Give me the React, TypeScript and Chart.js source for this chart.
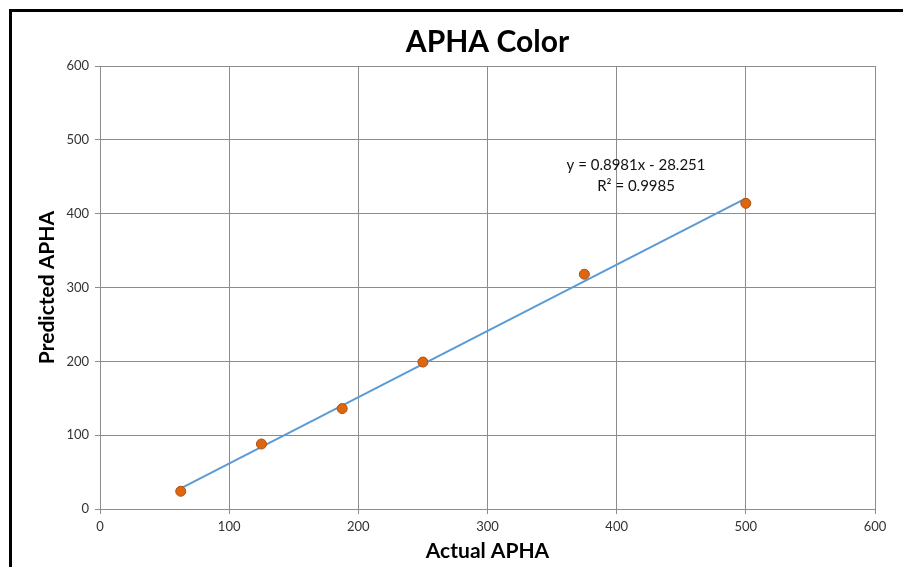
import React, { useEffect, useRef } from "react";
import { Chart, registerables } from "chart.js";

Chart.register(...registerables);

const actualApha = [62.5, 125, 187.5, 250, 375, 500];
const predictedApha = [24, 88, 136, 199, 318, 414];
const trendSlope = 0.8981;
const trendIntercept = -28.251;
const trendRange = [62.5, 500];
const equationLines = ["y = 0.8981x - 28.251", "R² = 0.9985"];
const chartTitle = "APHA Color";
const xTitle = "Actual APHA";
const yTitle = "Predicted APHA";

const FONT = "Lato, 'Open Sans', sans-serif";

const equationPlugin = {
  id: "equationLabel",
  afterDatasetsDraw(chart: any) {
    const { ctx, scales } = chart;
    const x = scales.x.getPixelForValue(415);
    const y1 = scales.y.getPixelForValue(465.5);
    const y2 = scales.y.getPixelForValue(437);
    ctx.save();
    ctx.fillStyle = "#111";
    ctx.font = `15px ${FONT}`;
    ctx.textAlign = "center";
    ctx.textBaseline = "middle";
    ctx.fillText(equationLines[0], x, y1);
    ctx.fillText(equationLines[1], x, y2);
    ctx.restore();
  },
};

export default function App() {
  const ref = useRef<HTMLCanvasElement | null>(null);
  useEffect(() => {
    if (!ref.current) return;
    const points = actualApha.map((x, i) => ({ x, y: predictedApha[i] }));
    const trend = trendRange.map((x) => ({ x, y: trendSlope * x + trendIntercept }));
    const chart = new Chart(ref.current, {
      type: "scatter",
      data: {
        datasets: [
          {
            type: "line",
            label: "Linear",
            data: trend,
            borderColor: "#5B9BD5",
            borderWidth: 2,
            pointRadius: 0,
            fill: false,
            order: 2,
          } as any,
          {
            label: "Predicted",
            data: points,
            backgroundColor: "#E0650F",
            borderColor: "#A9500F",
            borderWidth: 1,
            pointRadius: 5,
            order: 1,
          },
        ],
      },
      options: {
        animation: false,
        responsive: false,
        devicePixelRatio: 1,
        layout: { padding: { left: 31, right: 28, top: 0, bottom: 0 } },
        plugins: {
          legend: { display: false },
          tooltip: { enabled: false },
          title: {
            display: true,
            fullSize: false,
            text: chartTitle,
            color: "#000",
            font: { family: FONT, size: 30, weight: "bold" },
            padding: { top: 24, bottom: 6 },
          },
        },
        scales: {
          x: {
            type: "linear",
            min: 0,
            max: 600,
            ticks: { stepSize: 100, color: "#333", font: { family: FONT, size: 13 }, padding: 5 },
            grid: { color: "#8C8C8C", lineWidth: 1, tickLength: 5, drawTicks: true },
            border: { color: "#8C8C8C", width: 1 },
            title: {
              display: true,
              text: xTitle,
              color: "#000",
              font: { family: FONT, size: 21, weight: "bold" },
              padding: { top: 4, bottom: 3 },
            },
            afterFit(scale: any) {
              scale.height = 58;
            },
          },
          y: {
            type: "linear",
            min: 0,
            max: 600,
            ticks: { stepSize: 100, color: "#333", font: { family: FONT, size: 13 }, padding: 6 },
            grid: { color: "#8C8C8C", lineWidth: 1, tickLength: 5, drawTicks: true },
            border: { color: "#8C8C8C", width: 1 },
            title: {
              display: true,
              text: yTitle,
              color: "#000",
              font: { family: FONT, size: 21, weight: "bold" },
              padding: { top: 4, bottom: 4 },
            },
            afterFit(scale: any) {
              scale.width = 69;
            },
          },
        },
      },
      plugins: [equationPlugin],
    });
    return () => chart.destroy();
  }, []);

  return (
    <div style={{ position: "fixed", left: 0, top: 0, width: 903, height: 567, background: "#fff", overflow: "hidden" }}>
      <canvas ref={ref} width={903} height={567} style={{ position: "absolute", left: 0, top: 0, width: 903, height: 567 }} />
      <div
        style={{
          position: "absolute",
          left: 9,
          top: 9,
          right: -10,
          bottom: -10,
          borderTop: "3px solid #000",
          borderLeft: "3px solid #000",
          pointerEvents: "none",
        }}
      />
    </div>
  );
}
